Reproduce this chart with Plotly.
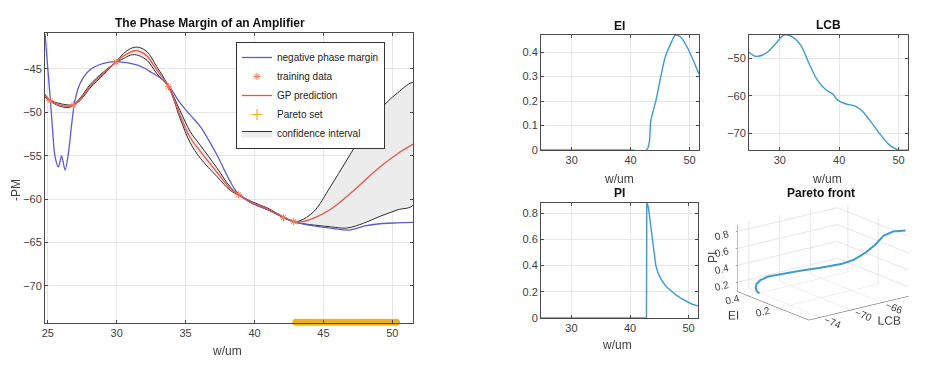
import plotly.graph_objects as go

# ---------------- data ----------------
pm_w = [24.8, 24.97, 25.17, 25.35, 25.53, 25.77, 25.9, 26.0, 26.1, 26.26, 26.5, 26.74, 26.98, 27.35,
        28.07, 29.04, 30.0, 31.46, 32.43, 33.6, 34.6, 35.33, 36.07, 37.27, 38.24, 38.84, 40.0, 40.9,
        42.1, 42.84, 44.3, 45.5, 46.95, 48.0, 49.1, 50.35, 51.55]
pm = [-40.9, -44.3, -48.2, -52.0, -55.1, -56.3, -55.6, -55.0, -55.6, -56.65, -54.7, -51.3, -48.6, -46.65,
      -45.1, -44.35, -44.16, -44.54, -45.3, -46.6, -48.9, -50.3, -51.65, -54.9, -58.0, -59.4, -60.6, -61.2,
      -62.1, -62.6, -63.1, -63.35, -63.57, -63.1, -62.85, -62.75, -62.7]

gp_w = [24.75, 25.17, 25.8, 26.5, 26.86, 27.4, 28.07, 29.04, 29.96, 30.5, 31.0, 31.3, 31.6, 32.2, 32.9,
        33.76, 34.6, 35.33, 36.07, 37.27, 38.24, 38.84, 39.8, 40.9, 42.1, 42.84, 43.3, 44.3, 45.5, 46.7,
        47.9, 49.1, 50.35, 51.6]
gp_mean = [-48.0, -48.65, -49.1, -49.3, -49.15, -48.4, -47.0, -45.5, -44.2, -43.5, -43.05, -42.9, -42.95,
           -43.5, -45.1, -47.04, -50.3, -52.9, -54.5, -56.9, -58.8, -59.5, -60.4, -61.1, -62.1, -62.6,
           -62.65, -62.2, -61.2, -59.7, -58.0, -56.3, -54.8, -53.6]
gp_upper = [-47.8, -48.6, -48.95, -49.15, -49.1, -48.25, -46.8, -45.35, -44.15, -43.2, -42.65, -42.5, -42.5,
            -43.0, -44.7, -46.95, -49.8, -52.2, -53.8, -56.4, -58.6, -59.45, -60.3, -61.0, -62.05, -62.55,
            -62.5, -61.45, -58.6, -55.5, -52.4, -49.7, -47.8, -46.6]
gp_lower = [-48.2, -48.7, -49.25, -49.45, -49.2, -48.55, -47.2, -45.65, -44.25, -43.8, -43.4, -43.35, -43.45,
            -44.0, -45.5, -47.1, -50.7, -53.5, -55.3, -57.4, -59.0, -59.55, -60.5, -61.2, -62.15, -62.65,
            -62.8, -63.0, -63.2, -63.35, -62.8, -62.0, -61.26, -60.55]

train_w = [25.17, 26.86, 29.96, 33.76, 38.84, 42.1, 42.84]
train_pm = [-48.65, -49.15, -44.2, -47.04, -59.5, -62.15, -62.6]

pareto_w = [43.0, 43.2, 43.4, 43.6, 43.8, 44.0, 44.2, 44.4, 44.6, 44.8, 45.0, 45.2, 45.4, 45.6, 45.8,
            46.0, 46.2, 46.4, 46.6, 46.8, 47.0, 47.2, 47.4, 47.6, 47.8, 48.0, 48.2, 48.4, 48.6, 48.8,
            49.0, 49.2, 49.4, 49.6, 49.8, 50.0, 50.2, 50.3]
pareto_level = -74.2

ei_w = [24.8, 30, 35, 40, 42.7, 43.45, 44.3, 45.1, 45.95, 46.8, 47.6, 48.5, 49.6, 50.4, 51.6]
ei = [0, 0, 0, 0, 0, 0.122, 0.203, 0.298, 0.386, 0.434, 0.469, 0.461, 0.420, 0.379, 0.31]

lcb_w = [24.8, 25.9, 27.6, 29.3, 30.7, 32.1, 33.5, 34.9, 36.3, 37.8, 38.9, 39.7, 41.2, 42.6, 43.7,
         45.1, 46.8, 48.5, 49.9, 51.6]
lcb = [-48.4, -49.55, -48.8, -46.2, -43.9, -44.4, -46.6, -51.4, -55.8, -58.5, -59.5, -61.1, -62.2, -62.7,
       -63.8, -66.4, -70.0, -73.1, -74.35, -74.4]

pi_w = [24.8, 30, 35, 40, 42.8, 42.86, 43.05, 43.2, 43.4, 43.7, 44.0, 44.4, 44.8, 45.5, 46.2, 47.0,
        47.9, 48.8, 49.7, 50.6, 51.6]
pi_v = [0, 0, 0, 0, 0, 0.877, 0.86, 0.82, 0.749, 0.61, 0.50, 0.40, 0.34, 0.28, 0.238, 0.205,
        0.174, 0.147, 0.123, 0.105, 0.092]

pf_ei = [0.00, 0.07, 0.12, 0.16, 0.20, 0.24, 0.28, 0.345, 0.40, 0.44, 0.465, 0.465, 0.45, 0.43, 0.40, 0.38]
pf_lcb = [-62.9, -63.1, -63.4, -63.7, -64.1, -64.9, -65.7, -67.2, -68.7, -70.4, -71.6, -72.6, -73.4,
          -73.9, -74.35, -74.4]
pf_pi = [0.877, 0.82, 0.74, 0.61, 0.50, 0.40, 0.34, 0.28, 0.238, 0.205, 0.185, 0.165, 0.147, 0.133,
         0.118, 0.11]

# ---------------- styling ----------------
W, H = 928, 367
OFF = 8  # page body margin
FONT = "Liberation Sans, Arial, sans-serif"
TICKC = "#404040"
GRID = "#e6e6e6"
AX = "#4a4a4a"
ACQ = "#3d9bcc"


def fx(x):
    return (x - OFF) / W


def fy(y):
    return 1 - (y - OFF) / H


def px(x0, x1):
    return [fx(x0), fx(x1)]


def py(top, bottom):
    return [fy(bottom), fy(top)]


def axstyle(**kw):
    d = dict(showgrid=True, gridcolor=GRID, gridwidth=1, zeroline=False, showline=True,
             linecolor=AX, linewidth=1, mirror="ticks", ticks="inside", ticklen=3,
             tickcolor=AX, tickfont=dict(size=11, color=TICKC, family=FONT), automargin=False)
    d.update(kw)
    return d


def ax3d(title, rng, tv):
    return dict(title=dict(text=title, font=dict(size=12, color=TICKC, family=FONT)), range=rng,
                tickvals=tv, tickfont=dict(size=11, color=TICKC, family=FONT),
                showbackground=False, gridcolor=GRID, zeroline=False, showline=True,
                linecolor=AX, showspikes=False, ticks="outside", ticklen=2, tickcolor=AX)


fig = go.Figure()

# confidence band
fig.add_trace(go.Scatter(x=gp_w + gp_w[::-1], y=gp_upper + gp_lower[::-1], fill="toself",
                         fillcolor="#ececec", line=dict(color="#2e2e2e", width=1),
                         mode="lines", name="confidence interval", legendrank=5,
                         xaxis="x", yaxis="y", line_shape="spline"))
fig.add_trace(go.Scatter(x=pm_w, y=pm, mode="lines", line=dict(color="#5b5bd6", width=1.3),
                         name="negative phase margin", legendrank=1, line_shape="spline",
                         xaxis="x", yaxis="y"))
fig.add_trace(go.Scatter(x=gp_w, y=gp_mean, mode="lines", line=dict(color="#ee5548", width=1.3),
                         name="GP prediction", legendrank=3, line_shape="spline",
                         xaxis="x", yaxis="y"))
fig.add_trace(go.Scatter(x=train_w, y=train_pm, mode="markers",
                         marker=dict(symbol="asterisk-open", size=6, color="#f47a5a",
                                     line=dict(color="#f47a5a", width=1)),
                         name="training data", legendrank=2, xaxis="x", yaxis="y"))
fig.add_trace(go.Scatter(x=pareto_w, y=[pareto_level] * len(pareto_w), mode="markers",
                         marker=dict(symbol="circle", size=7, color="#EDB120"),
                         cliponaxis=False, showlegend=False, xaxis="x", yaxis="y"))
fig.add_trace(go.Scatter(x=[None], y=[None], mode="markers",
                         marker=dict(symbol="cross-thin-open", size=8, color="#EDB120",
                                     line=dict(color="#EDB120", width=1.2)),
                         name="Pareto set", legendrank=4, xaxis="x", yaxis="y"))

# acquisition functions
fig.add_trace(go.Scatter(x=ei_w, y=ei, mode="lines", line=dict(color=ACQ, width=1.4),
                         line_shape="spline", showlegend=False, xaxis="x2", yaxis="y2"))
fig.add_trace(go.Scatter(x=lcb_w, y=lcb, mode="lines", line=dict(color=ACQ, width=1.4),
                         line_shape="spline", showlegend=False, xaxis="x3", yaxis="y3"))
fig.add_trace(go.Scatter(x=pi_w, y=pi_v, mode="lines", line=dict(color=ACQ, width=1.4),
                         showlegend=False, xaxis="x4", yaxis="y4"))

# pareto front 3-D
fig.add_trace(go.Scatter3d(x=pf_lcb, y=pf_ei, z=pf_pi, mode="lines",
                           line=dict(color=ACQ, width=4), showlegend=False, scene="scene"))

w_ticks = [30, 40, 50]
fig.update_layout(
    width=W, height=H, margin=dict(l=0, r=0, t=0, b=0, autoexpand=False),
    paper_bgcolor="white", plot_bgcolor="white",
    font=dict(family=FONT, color=TICKC),
    xaxis=axstyle(domain=px(45, 413), range=[24.8, 51.5], tickvals=[25, 30, 35, 40, 45, 50], anchor="y"),
    yaxis=axstyle(domain=py(33, 323), range=[-74.3, -40.85], tickvals=[-70, -65, -60, -55, -50, -45],
                  anchor="x"),
    xaxis2=axstyle(domain=px(541, 699), range=[24.8, 51.6], tickvals=w_ticks, anchor="y2"),
    yaxis2=axstyle(domain=py(35, 150), range=[0, 0.47], tickvals=[0, 0.1, 0.2, 0.3, 0.4], anchor="x2"),
    xaxis3=axstyle(domain=px(749, 908), range=[24.8, 51.6], tickvals=w_ticks, anchor="y3"),
    yaxis3=axstyle(domain=py(35, 150), range=[-74.4, -43.9], tickvals=[-70, -60, -50], anchor="x3"),
    xaxis4=axstyle(domain=px(541, 698), range=[24.8, 51.6], tickvals=w_ticks, anchor="y4"),
    yaxis4=axstyle(domain=py(203, 318), range=[0, 0.877], tickvals=[0, 0.2, 0.4, 0.6, 0.8],
                   tickformat=".1~f", anchor="x4"),
    legend=dict(x=fx(236), y=fy(42), xanchor="left", yanchor="top", bgcolor="white",
                bordercolor="#333", borderwidth=1, font=dict(size=10, color="#222", family=FONT),
                tracegroupgap=0, itemwidth=30),
    scene=dict(
        domain=dict(x=[fx(710), 1.0], y=[fy(354), fy(167)]),
        xaxis=ax3d("LCB", [-75.5, -62.5], [-74, -70, -66]),
        yaxis=ax3d("EI", [0, 0.47], [0.2, 0.4]),
        zaxis=ax3d("", [0.09, 0.88], [0.2, 0.4, 0.6, 0.8]),
        aspectmode="manual", aspectratio=dict(x=1.35, y=1.25, z=0.75),
        camera=dict(eye=dict(x=-1.22, y=-1.58, z=0.65), projection=dict(type="orthographic")),
        bgcolor="white",
    ),
)

# titles and axis labels
ann = [
    ("<b>The Phase Margin of an Amplifier</b>", 210, 23, 12, "#111", 0),
    ("<b>EI</b>", 619, 26, 12, "#111", 0),
    ("<b>LCB</b>", 828, 25, 12, "#111", 0),
    ("<b>PI</b>", 619, 193, 12, "#111", 0),
    ("<b>Pareto front</b>", 821, 193, 12, "#111", 0),
    ("w/um", 227, 351, 12, TICKC, 0),
    ("w/um", 619, 179, 12, TICKC, 0),
    ("w/um", 827, 179, 12, TICKC, 0),
    ("w/um", 617, 345, 12, TICKC, 0),
    ("-PM", 16, 190, 12, TICKC, -90),
    ("PI", 713, 258, 12, TICKC, -90),
]
for text, ax_, ay_, size, col, rot in ann:
    fig.add_annotation(text=text, x=fx(ax_), y=fy(ay_), xref="paper", yref="paper",
                       xanchor="center", yanchor="middle", showarrow=False, textangle=rot,
                       font=dict(size=size, color=col, family=FONT))

fig.write_html("out.html")
